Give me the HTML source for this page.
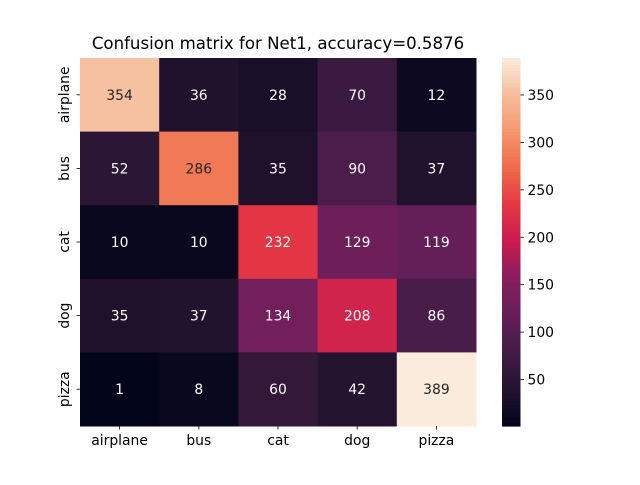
<!DOCTYPE html>
<html><head><meta charset="utf-8"><style>
body{margin:0;background:#fff}
svg text{font-family:"DejaVu Sans","Liberation Sans",sans-serif}
</style></head><body>
<svg id="chart" width="640" height="480" xmlns="http://www.w3.org/2000/svg">
<rect width="640" height="480" fill="#fff"/>
<text x="278" y="49" text-anchor="middle" font-size="16.6" fill="#000">Confusion matrix for Net1, accuracy=0.5876</text>
<g id="cells"></g>
<g id="labels"></g>
<g id="cbar"></g>
</svg>
<script>
const rowLabels=["airplane","bus","cat","dog","pizza"];
const colLabels=["airplane","bus","cat","dog","pizza"];
const matrix=[
[354,36,28,70,12],
[52,286,35,90,37],
[10,10,232,129,119],
[35,37,134,208,86],
[1,8,60,42,389]];
const cbarTicks=[50,100,150,200,250,300,350];
const vmin=1, vmax=389;
const stops=[[3,5,26],[35,19,47],[65,28,69],[100,31,88],[135,30,95],[200,26,80],[228,55,67],[239,105,73],[244,150,109],[246,188,155],[250,235,221]];
function cmap(t){t=Math.max(0,Math.min(1,t));const p=t*(stops.length-1);const i=Math.min(stops.length-2,Math.floor(p));const f=p-i;
const c=stops[i].map((v,k)=>Math.round(v+(stops[i+1][k]-v)*f));return c;}
const NS="http://www.w3.org/2000/svg";
const L=80,T=58,W=396,H=368;
const cw=W/colLabels.length, ch=H/rowLabels.length;
function xs(j){return L+j*cw;} function ys(i){return T+i*ch;}
function mk(tag,attrs,parent){const e=document.createElementNS(NS,tag);for(const k in attrs)e.setAttribute(k,attrs[k]);parent.appendChild(e);return e;}
const cells=document.getElementById('cells'), labels=document.getElementById('labels'), cbar=document.getElementById('cbar');
matrix.forEach((row,i)=>row.forEach((v,j)=>{
 const c=cmap((v-vmin)/(vmax-vmin));
 const r=mk('rect',{x:xs(j),y:ys(i),width:cw+0.5,height:ch+0.5,fill:`rgb(${c})`},cells);
 
 
 const lum=(0.2126*c[0]+0.7152*c[1]+0.0722*c[2])/255;
 const t=mk('text',{x:xs(j)+cw/2,y:ys(i)+ch/2+5,'text-anchor':'middle','font-size':'13.9',fill:lum>0.408?'#262626':'#ffffff'},cells);
 t.textContent=v;
 
 
}));
colLabels.forEach((s,j)=>{
 mk('line',{x1:xs(j)+cw/2,x2:xs(j)+cw/2,y1:T+H,y2:T+H+3.5,stroke:'#000','stroke-width':0.8},labels);
 const t=mk('text',{x:xs(j)+cw/2,y:T+H+19,'text-anchor':'middle','font-size':'13.9',fill:'#000'},labels);
 t.textContent=s;
 
 
});
rowLabels.forEach((s,i)=>{
 const yc=ys(i)+ch/2;
 mk('line',{x1:L-3.5,x2:L,y1:yc,y2:yc,stroke:'#000','stroke-width':0.8},labels);
 const t=mk('text',{x:0,y:0,transform:`translate(69,${yc}) rotate(-90)`,'text-anchor':'middle','font-size':'13.9',fill:'#000'},labels);
 t.textContent=s;
 
 
});
const CX=502,CW=18.5,N=120;
for(let k=0;k<N;k++){const c=cmap((k+0.5)/N);
 const r=mk('rect',{x:CX,y:T+H-(k+1)*H/N,width:CW,height:H/N+0.6,fill:`rgb(${c})`},cbar);
 
 }
function cy(v){return T+H-(v-vmin)/(vmax-vmin)*H;}
cbarTicks.forEach(v=>{
 mk('line',{x1:CX+CW,x2:CX+CW+3.5,y1:cy(v),y2:cy(v),stroke:'#000','stroke-width':0.8},cbar);
 const t=mk('text',{x:CX+CW+7,y:cy(v)+5,'font-size':'13.9',fill:'#000'},cbar);
 t.textContent=v;
 
 
});
</script>
</body></html>
